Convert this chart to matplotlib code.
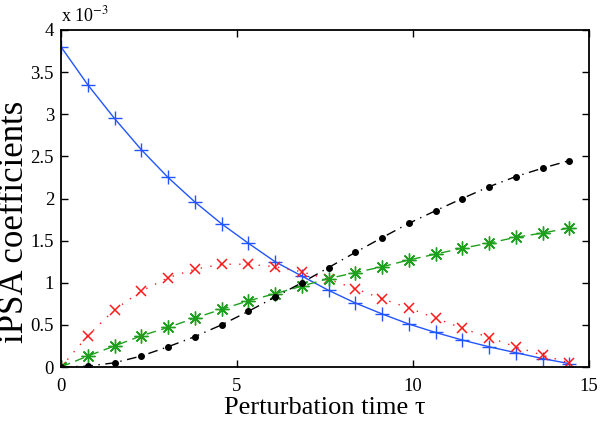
import matplotlib
matplotlib.use("Agg")
import matplotlib.pyplot as plt
import numpy as np

tau = [0.0, 0.76, 1.52, 2.28, 3.04, 3.80, 4.56, 5.32, 6.08, 6.84,
       7.60, 8.36, 9.12, 9.88, 10.64, 11.40, 12.16, 12.92, 13.68, 14.44]
# values in units of 1e-3
blue = [3.80, 3.35, 2.95, 2.58, 2.25, 1.96, 1.70, 1.47, 1.25, 1.08,
        0.91, 0.76, 0.63, 0.51, 0.41, 0.32, 0.24, 0.17, 0.10, 0.04]
red = [0.0, 0.37, 0.68, 0.90, 1.06, 1.16, 1.22, 1.22, 1.19, 1.13,
       1.04, 0.93, 0.81, 0.70, 0.58, 0.46, 0.35, 0.24, 0.14, 0.05]
green = [0.0, 0.13, 0.25, 0.37, 0.47, 0.58, 0.685, 0.785, 0.87, 0.96,
         1.05, 1.12, 1.19, 1.27, 1.34, 1.41, 1.47, 1.54, 1.59, 1.65]
black = [0.0, 0.01, 0.05, 0.13, 0.24, 0.36, 0.50, 0.66, 0.83, 1.00,
         1.18, 1.36, 1.535, 1.705, 1.855, 2.00, 2.14, 2.26, 2.36, 2.45]

xticks = [0, 5, 10, 15]
yticks = [0, 0.5, 1, 1.5, 2, 2.5, 3, 3.5, 4]
ytick_labels = ['0', '0.5', '1', '1.5', '2', '2.5', '3', '3.5', '4']

plt.rcParams['font.family'] = ['Liberation Serif', 'DejaVu Serif']
plt.rcParams['mathtext.fontset'] = 'stix'

fig = plt.figure(figsize=(6.0, 4.26), dpi=100)
ax = fig.add_axes([61/600, 1-367/426, 528/600, 337/426])

ax.plot(tau, blue, color='#2255ff', lw=1.0, ls='-', marker='+', ms=10, mew=1.0)
ax.plot(tau, red, color='#ff1a1a', lw=1.0, ls=(0, (1, 6)), marker='x', ms=7, mew=1.1)
ax.plot(tau, green, color='#1ea01e', lw=1.0, ls=(0, (7, 4)), marker=(8, 2, 0), ms=10, mew=1.0)
ax.plot(tau, black, color='black', lw=1.0, ls=(0, (7, 4, 1, 4)), marker='o', ms=4)

ax.set_xlim(0, 15)
ax.set_ylim(0, 4)
ax.set_xticks(xticks)
ax.set_yticks(yticks)
ax.set_yticklabels(ytick_labels)
ax.tick_params(direction='in', top=True, right=True, length=5, width=1,
               labelsize=13.5)
ax.tick_params(axis='x', pad=8)
ax.tick_params(axis='y', pad=5)
for s in ax.spines.values():
    s.set_linewidth(1.3)

ax.set_xlabel('Perturbation time τ', fontsize=19, labelpad=1)
fig.text(15/600, 1-222/426, 'iPSA coefficients', fontsize=25, rotation=90,
         ha='center', va='center')
ax.text(0.0, 1.015, 'x 10$^{-3}$', transform=ax.transAxes, fontsize=13,
        ha='left', va='bottom')

fig.savefig('out.png', dpi=100)
